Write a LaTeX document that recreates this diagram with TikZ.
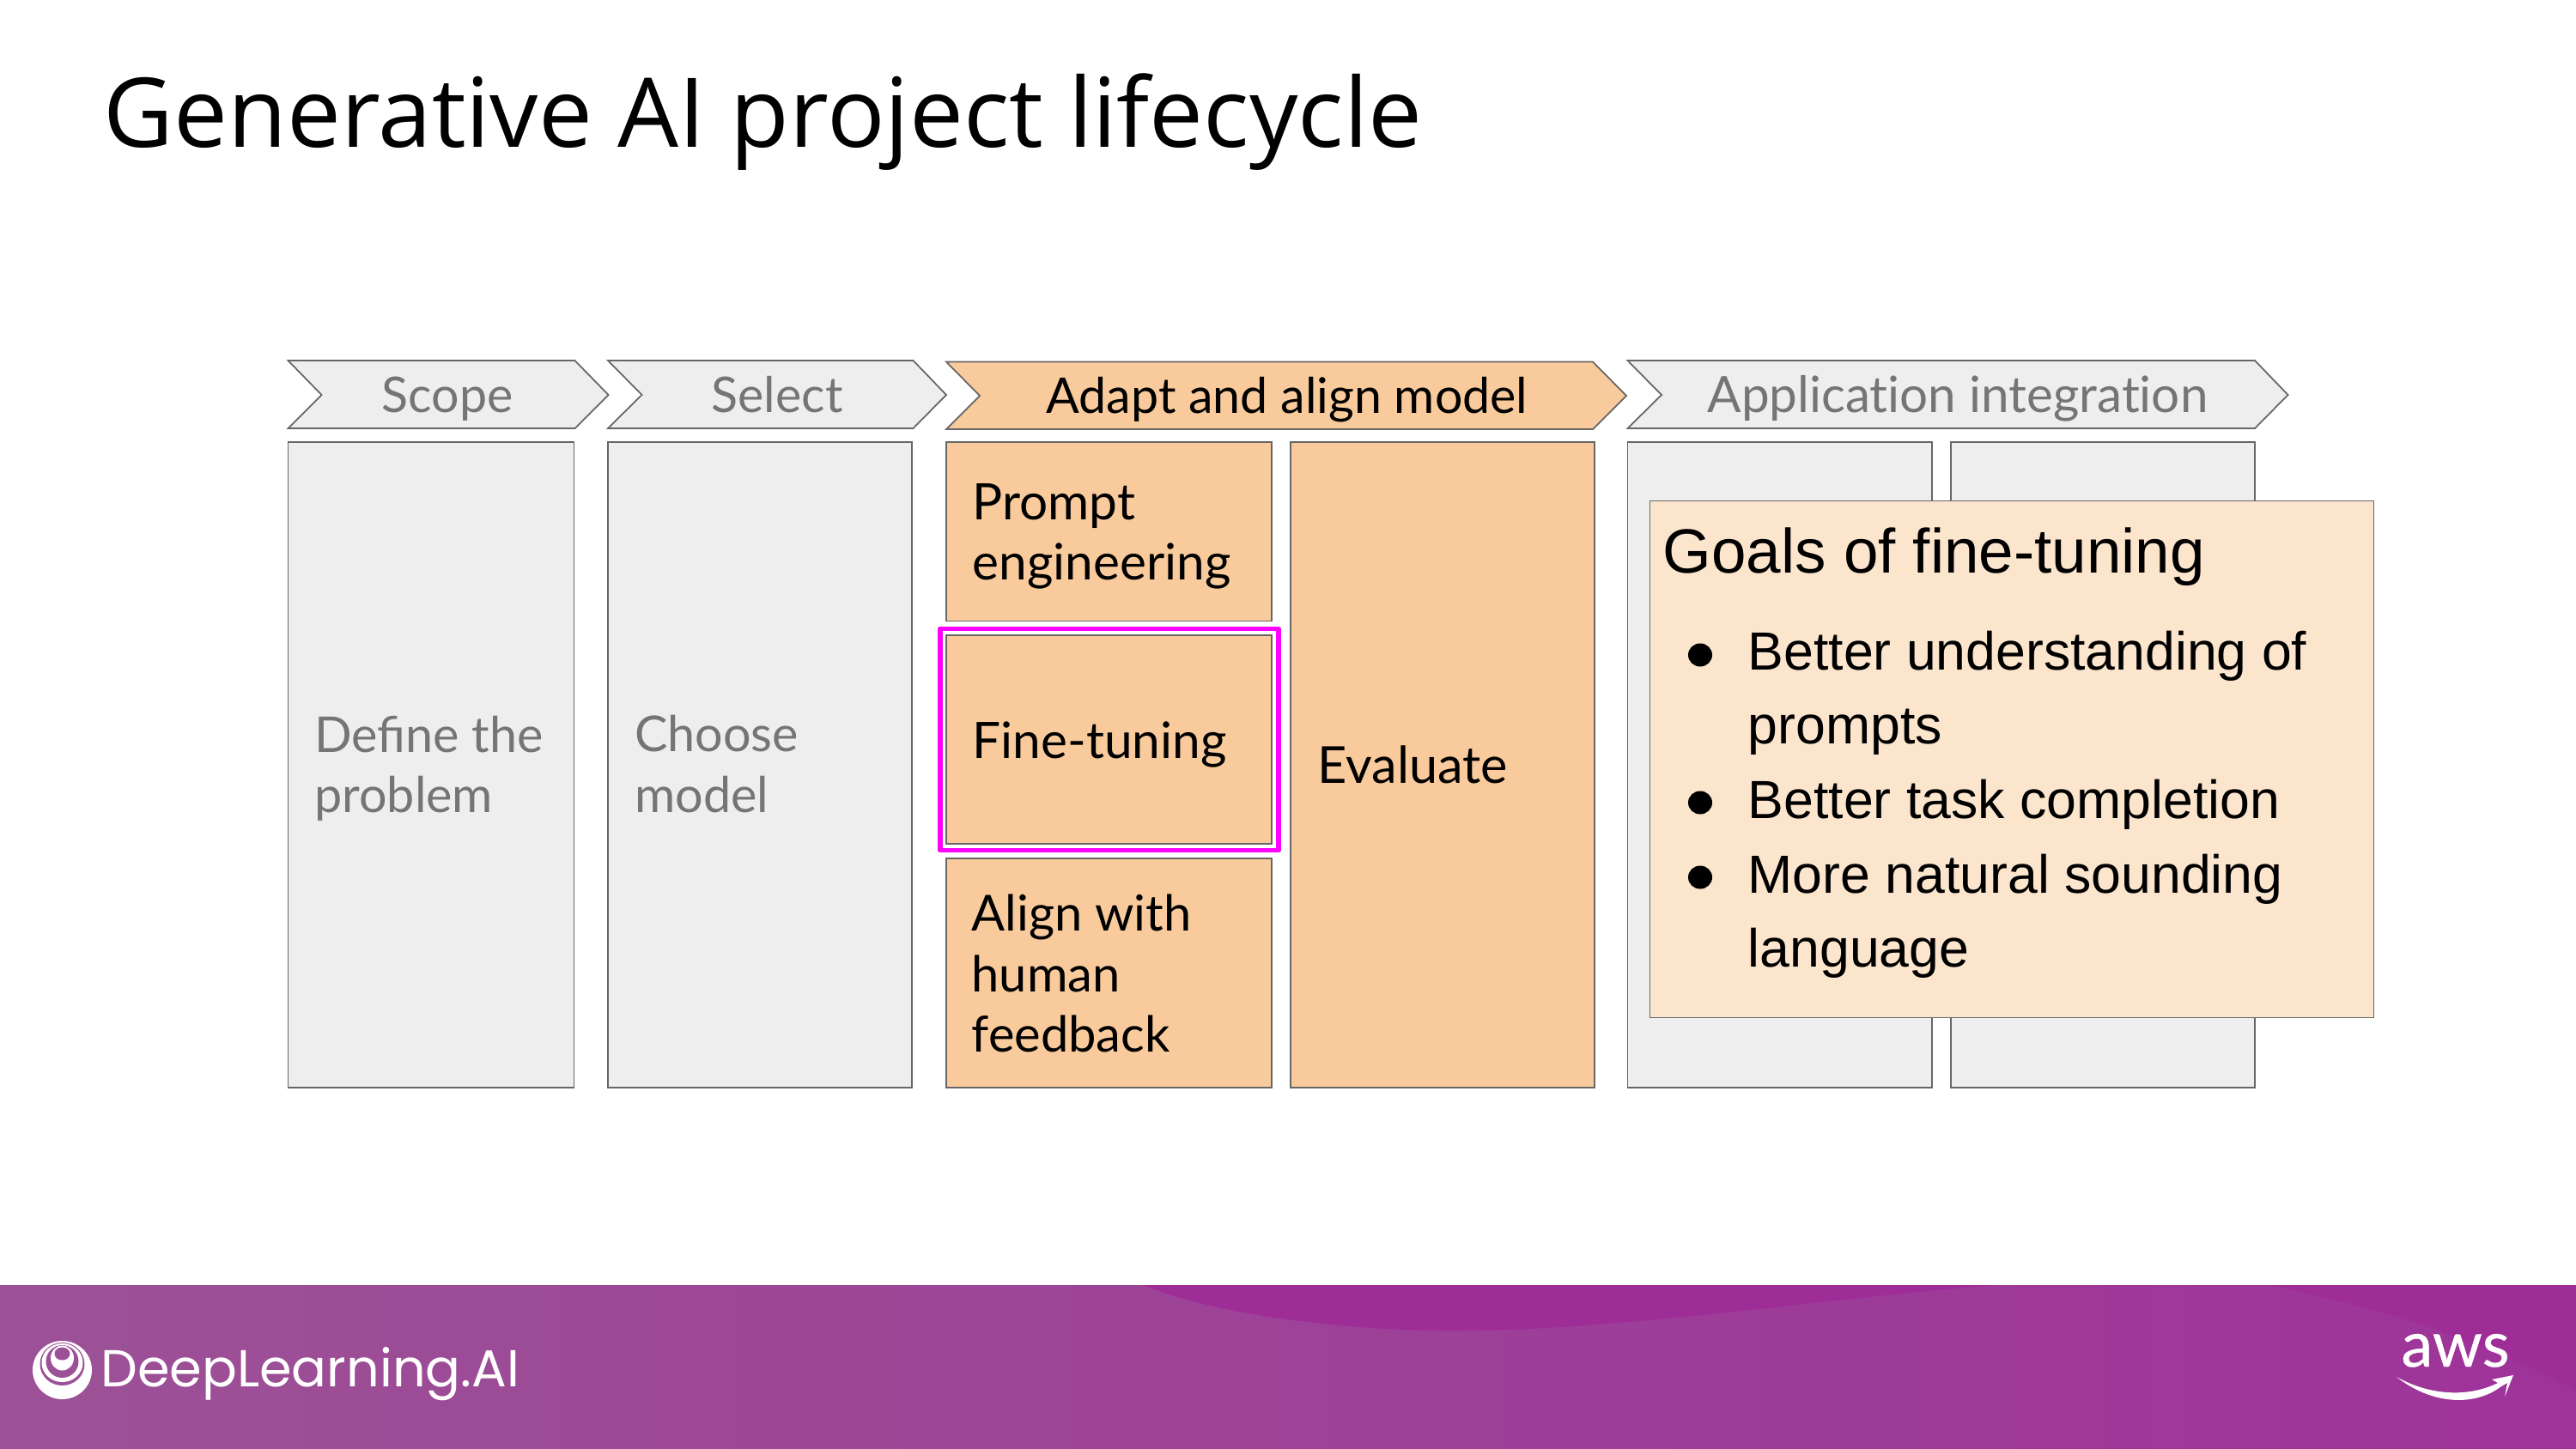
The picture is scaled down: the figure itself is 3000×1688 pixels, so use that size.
\documentclass[tikz,border=0pt]{standalone}
\usepackage{fontspec}
\setmainfont{Lato}
\newfontfamily\arialf{Liberation Sans}
\newfontfamily\logof{Poppins}
\newfontfamily\titlef{Open Sans}
\newfontfamily\awsf[FakeBold=0.5]{Lato}
\usetikzlibrary{shadings}
\definecolor{greyfill}{HTML}{EEEEEE}
\definecolor{edgec}{HTML}{666666}
\definecolor{orangef}{HTML}{F9CB9C}
\definecolor{goalf}{HTML}{FCE5CD}
\definecolor{greytext}{HTML}{757575}
\definecolor{bandl}{HTML}{9C5196}
\definecolor{bandr}{HTML}{9E3399}
\definecolor{bandd}{HTML}{9E2D98}
\definecolor{hilite}{HTML}{FF00FF}
\tikzset{
  x=0.01cm,y=-0.01cm,
  chev/.style={draw=edgec,line width=0.5pt,line join=miter},
  box/.style={draw=edgec,line width=0.5pt,inner sep=0pt},
  lab/.style={anchor=west,align=left,inner sep=0pt,font=\fontsize{16.65pt}{20pt}\selectfont},
  hdr/.style={anchor=base,inner sep=0pt,font=\fontsize{16.3pt}{20pt}\selectfont},
}
\begin{document}
\begin{tikzpicture}
\useasboundingbox (0,0) rectangle (3000,1688);
\fill[white] (0,0) rectangle (3000,1688);
\node[anchor=base west,inner sep=0pt,font=\titlef\fontsize{31.9pt}{40pt}\selectfont] (title) at (120,172) {Generative AI project lifecycle};
% chevrons
\draw[chev,fill=greyfill] (335.5,420) -- (669.5,420) -- (708.5,460) -- (669.5,499) -- (335.5,499) -- (374.5,460) -- cycle;
\node[hdr,text=greytext] (hscope) at (521,480) {Scope};
\draw[chev,fill=greyfill] (708,420) -- (1063.5,420) -- (1102,460) -- (1063.5,499) -- (708,499) -- (747.5,460) -- cycle;
\node[hdr,text=greytext] (hselect) at (905,480) {Select};
\draw[chev,fill=orangef] (1102,421.5) -- (1855,421.5) -- (1894,461) -- (1855,500) -- (1102,500) -- (1141,461) -- cycle;
\node[hdr] (hadapt) at (1499,481.5) {Adapt and align model};
\draw[chev,fill=greyfill] (1895.5,420) -- (2626,420) -- (2664.5,460) -- (2626,499) -- (1895.5,499) -- (1935,460) -- cycle;
\node[hdr,text=greytext,font=\fontsize{16.6pt}{20pt}\selectfont] (happ) at (2280,480) {Applicat\kern0pt ion integrat\kern0pt ion};
% boxes
\draw[box,fill=greyfill] (335.5,515) rectangle (668.5,1267);
\node[lab,text=greytext,font=\fontsize{16.35pt}{20pt}\selectfont] (define) at (365.5,895) {Define the\\problem};
\draw[box,fill=greyfill] (708,515) rectangle (1062,1267);
\node[lab,text=greytext,font=\fontsize{16.35pt}{20pt}\selectfont] (choose) at (738.5,890) {Choose\\model};
\draw[box,fill=orangef] (1102,515) rectangle (1481,723.5);
\node[lab] (prompt) at (1132,625) {Prompt\\engineering};
\draw[box,fill=orangef] (1102,740) rectangle (1481,983);
\node[lab] (fine) at (1132,867) {Fine-tuning};
\draw[box,fill=orangef] (1102,1000) rectangle (1481,1267);
\node[lab,font=\fontsize{16.45pt}{20pt}\selectfont] (align) at (1131,1134) {Align with\\human\\feedback};
\draw[box,fill=orangef] (1503,515) rectangle (1857,1267);
\node[lab,font=\fontsize{16.9pt}{20pt}\selectfont] (eval) at (1534,891) {Evaluate};
\draw[draw=hilite,line width=1.7pt,line join=round] (1094.5,732.5) rectangle (1488.5,990.5);
\draw[box,fill=greyfill] (1895.5,515) rectangle (2250,1267);
\draw[box,fill=greyfill] (2272,515) rectangle (2626,1267);
\draw[box,fill=goalf] (1921.5,583.5) rectangle (2764.5,1185.5);
\node[anchor=base west,inner sep=0pt,font=\arialf\fontsize{20.7pt}{24pt}\selectfont] (gt) at (1936,667) {Goals of fine-tuning};
\begin{scope}[every node/.style={anchor=base west,inner sep=0pt,font=\arialf\fontsize{17.8pt}{22pt}\selectfont}]
\node (b1a) at (2035,780) {Better understanding of};
\node (b1b) at (2035,866) {prompts};
\node (b2) at (2035,953) {Better task completion};
\node (b3a) at (2035,1040) {More natural sounding};
\node (b3b) at (2035,1126) {language};
\end{scope}
\foreach \yy in {763,935,1022}{\fill (1980,\yy) ellipse (14 and 13.5);}
% band
\shade[left color=bandl,right color=bandr] (0,1497) rectangle (3000,1688);
\fill[bandd] (1332,1497) .. controls (1420,1535) and (1600,1553) .. (1717,1550) .. controls (1900,1548) and (2150,1510) .. (2325,1497) -- cycle;
\fill[bandd] (2643,1497) .. controls (2780,1525) and (2900,1565) .. (3000,1620) -- (3000,1497) -- cycle;
% logo
\fill[white] (72.5,1596) ellipse (34.5 and 34);
\fill[bandl] (72.5,1589) ellipse (26 and 25);
\fill[white] (72.5,1587.5) ellipse (24 and 22.5);
\fill[bandl] (72.5,1586) ellipse (19 and 19);
\fill[white] (72.5,1582) ellipse (13.5 and 14.5);
\fill[bandl] (72.5,1577) ellipse (9 and 7.5);
\node[anchor=base west,inner sep=0pt,text=white,font=\logof\fontsize{17.2pt}{22pt}\selectfont] (dl) at (117,1615) {DeepLearning.AI};
% aws
\node[anchor=base,inner sep=0pt,text=white,font=\awsf\fontsize{21pt}{24pt}\selectfont] (aws) at (2859.5,1592) {aws};
\fill[white] (2791,1604) .. controls (2830,1626) and (2875,1628) .. (2909,1611) -- (2902,1607) -- (2927,1602) -- (2917,1627) -- (2920,1611) -- (2913,1615) .. controls (2880,1640) and (2830,1635) .. (2791,1604) -- cycle;
\end{tikzpicture}
\end{document}
